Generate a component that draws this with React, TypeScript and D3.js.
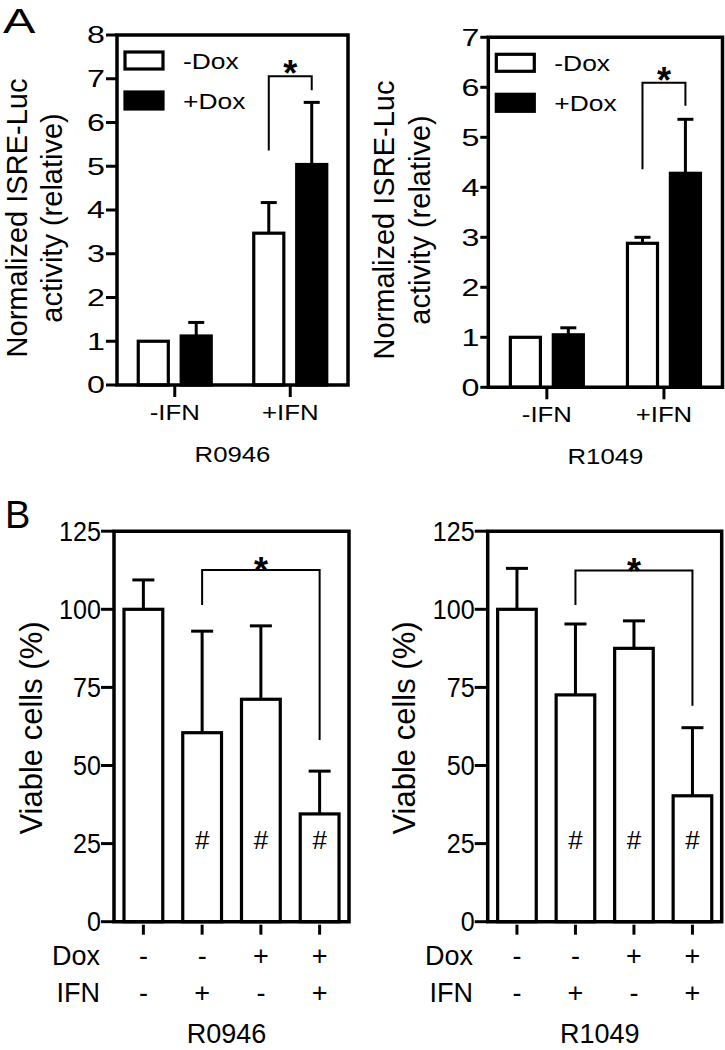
import React from 'react';
import * as d3 from 'd3';

const FONT = '"Liberation Sans", Arial, "DejaVu Sans", sans-serif';

// ---------- Panel A data (normalized ISRE-Luc activity) ----------
const groupsA = ['-IFN', '+IFN'];
const seriesA = ['-Dox', '+Dox'];
const r0946MinusDox = [1.0, 3.47];
const r0946MinusDoxErr = [0, 0.7];
const r0946PlusDox = [1.12, 5.04];
const r0946PlusDoxErr = [0.31, 1.42];
const r1049MinusDox = [1.0, 2.88];
const r1049MinusDoxErr = [0, 0.12];
const r1049PlusDox = [1.05, 4.28];
const r1049PlusDoxErr = [0.14, 1.08];
const ticksA0946 = [0, 1, 2, 3, 4, 5, 6, 7, 8];
const ticksA1049 = [0, 1, 2, 3, 4, 5, 6, 7];
// significance bracket: [left leg bottom, bracket top, right leg bottom]
const bracketA0946 = [5.36, 7.06, 6.74];
const bracketA1049 = [4.36, 6.09, 5.63];

// ---------- Panel B data (viable cells %) ----------
const doxRow = ['-', '-', '+', '+'];
const ifnRow = ['-', '+', '-', '+'];
const conditionsB = ['c1', 'c2', 'c3', 'c4'];
const viabR0946 = [100, 60.5, 71.2, 34.5];
const viabErrR0946 = [9.4, 32.5, 23.5, 13.7];
const viabR1049 = [100, 72.6, 87.5, 40.3];
const viabErrR1049 = [13.1, 22.7, 8.8, 21.8];
const hashMarks = ['', '#', '#', '#'];
const ticksB = [0, 25, 50, 75, 100, 125];
const bracketB0946 = [101.4, 112.6, 58.2];
const bracketB1049 = [101.4, 112.4, 69.1];

type TP = {
  x: number; y: number; size: number; sx?: number; anchor?: string;
  rotate?: number; weight?: string | number; children: React.ReactNode;
};
const T = ({ x, y, size, sx = 1, anchor = 'start', rotate = 0, weight = 'normal', children }: TP) => (
  <text
    transform={`translate(${x},${y}) scale(${sx},1)${rotate ? ` rotate(${rotate})` : ''}`}
    fontSize={size}
    textAnchor={anchor as any}
    fontFamily={FONT}
    fontWeight={weight as any}
    fill="#000"
  >
    {children}
  </text>
);

function PanelA(p: any) {
  const { left, right, top, bottom, yMax, ticks, minus, minusErr, plus, plusErr, bracket, name, t1, t2, tCy, tickLen } = p;
  const y = d3.scaleLinear().domain([0, yMax]).range([bottom, top]);
  const x = d3.scalePoint<string>().domain(groupsA).range([left, right]).padding(0.5);
  const inner = d3.scaleBand<string>().domain(seriesA).range([-36.5, 36.5]).paddingInner(0.3);
  const bw = inner.bandwidth();
  const vals = [minus, plus];
  const errs = [minusErr, plusErr];
  const cap = 16;
  const bx1 = (x('+IFN') as number) + (inner('-Dox') as number) + bw / 2;
  const bx2 = (x('+IFN') as number) + (inner('+Dox') as number) + bw / 2;
  return (
    <g>
      {/* y title */}
      <T x={t1} y={tCy} size={29} rotate={-90} anchor="middle">Normalized ISRE-Luc</T>
      <T x={t2} y={tCy} size={29} rotate={-90} anchor="middle">activity (relative)</T>
      {/* ticks */}
      {ticks.map((t: number) => (
        <g key={t}>
          <line x1={left - tickLen} x2={left} y1={y(t)} y2={y(t)} stroke="#000" strokeWidth={3} />
          <T x={left - tickLen - 1} y={y(t) + 8.3} size={23} sx={1.4} anchor="end">{t}</T>
        </g>
      ))}
      {/* bars */}
      {groupsA.map((g, gi) =>
        seriesA.map((s, si) => {
          const cx = (x(g) as number) + (inner(s) as number) + bw / 2;
          const v = vals[si][gi];
          const e = errs[si][gi];
          return (
            <g key={g + s}>
              {e > 0 && (
                <g stroke="#000" strokeWidth={3}>
                  <line x1={cx} x2={cx} y1={y(v)} y2={y(v + e)} />
                  <line x1={cx - cap / 2} x2={cx + cap / 2} y1={y(v + e)} y2={y(v + e)} />
                </g>
              )}
              <rect x={cx - bw / 2} y={y(v)} width={bw} height={y(0) - y(v)}
                fill={si === 0 ? '#fff' : '#000'} stroke="#000" strokeWidth={3.2} />
            </g>
          );
        })
      )}
      {/* frame */}
      <path d={`M${left},${top}H${right}V${bottom}H${left}Z`} fill="none" stroke="#000" strokeWidth={3.5} />
      {/* x ticks */}
      {groupsA.map((g) => (
        <g key={g}>
          <line x1={x(g)} x2={x(g)} y1={bottom} y2={bottom + 12} stroke="#000" strokeWidth={3} />
          <T x={x(g) as number} y={bottom + 35} size={23} sx={1.12} anchor="middle">{g}</T>
        </g>
      ))}
      <T x={(left + right) / 2} y={bottom + 77} size={23} sx={1.12} anchor="middle">{name}</T>
      {/* legend */}
      <rect x={left + 8} y={top + 17} width={38} height={17} fill="#fff" stroke="#000" strokeWidth={3.2} />
      <rect x={left + 8} y={top + 57} width={38} height={17} fill="#000" stroke="#000" strokeWidth={3.2} />
      <T x={left + 66} y={top + 34} size={22} sx={1.2}>{seriesA[0]}</T>
      <T x={left + 66} y={top + 74} size={22} sx={1.2}>{seriesA[1]}</T>
      {/* significance bracket */}
      <path d={`M${bx1},${y(bracket[0])}V${y(bracket[1])}H${bx2}V${y(bracket[2])}`} fill="none" stroke="#000" strokeWidth={2} />
      <T x={(bx1 + bx2) / 2} y={y(bracket[1]) + 10} size={36} weight="bold" anchor="middle">*</T>
    </g>
  );
}

function PanelB(p: any) {
  const { left, right, top, bottom, vals, errs, bracket, name, tBase, tCy, labelEnd } = p;
  const y = d3.scaleLinear().domain([0, 125]).range([bottom, top]);
  const x = d3.scalePoint<string>().domain(conditionsB).range([left, right]).padding(0.5);
  const bw = x.step() * 0.66;
  const cap = 22;
  const bx1 = x('c2') as number;
  const bx2 = x('c4') as number;
  return (
    <g>
      <T x={tBase} y={tCy} size={31} rotate={-90} anchor="middle">Viable cells (%)</T>
      {ticksB.map((t) => (
        <g key={t}>
          <line x1={left - 13} x2={left} y1={y(t)} y2={y(t)} stroke="#000" strokeWidth={3} />
          <T x={left - 13} y={y(t) + 9.5} size={27} sx={0.93} anchor="end">{t}</T>
        </g>
      ))}
      {conditionsB.map((c, i) => {
        const cx = x(c) as number;
        const v = vals[i];
        const e = errs[i];
        return (
          <g key={c}>
            <g stroke="#000" strokeWidth={3}>
              <line x1={cx} x2={cx} y1={y(v)} y2={y(v + e)} />
              <line x1={cx - cap / 2} x2={cx + cap / 2} y1={y(v + e)} y2={y(v + e)} />
            </g>
            <rect x={cx - bw / 2} y={y(v)} width={bw} height={y(0) - y(v)} fill="#fff" stroke="#000" strokeWidth={3.2} />
            {hashMarks[i] && <T x={cx} y={y(23.3)} size={26} anchor="middle">{hashMarks[i]}</T>}
            <line x1={cx} x2={cx} y1={bottom + 3} y2={bottom + 13} stroke="#000" strokeWidth={3} />
            <T x={cx} y={bottom + 43} size={27} anchor="middle">{doxRow[i]}</T>
            <T x={cx} y={bottom + 80} size={27} anchor="middle">{ifnRow[i]}</T>
          </g>
        );
      })}
      <path d={`M${left},${top}H${right}V${bottom}H${left}Z`} fill="none" stroke="#000" strokeWidth={3.5} />
      <T x={labelEnd} y={bottom + 43} size={27} anchor="end">Dox</T>
      <T x={labelEnd} y={bottom + 80} size={27} anchor="end">IFN</T>
      <T x={(left + right) / 2 - 5} y={bottom + 121} size={27} anchor="middle">{name}</T>
      <path d={`M${bx1},${y(bracket[0])}V${y(bracket[1])}H${bx2}V${y(bracket[2])}`} fill="none" stroke="#000" strokeWidth={2} />
      <T x={(bx1 + bx2) / 2} y={y(bracket[1]) + 13} size={36} weight="bold" anchor="middle">*</T>
    </g>
  );
}

export default function App() {
  return (
    <svg width={725} height={1050} style={{ position: 'absolute', left: 0, top: 0, background: '#fff' }}>
      <rect width={725} height={1050} fill="#fff" />
      <T x={3} y={33} size={36} sx={1.35}>A</T>
      <T x={5} y={528} size={38}>B</T>
      <PanelA left={117} right={348} top={35} bottom={385} yMax={8} ticks={ticksA0946}
        minus={r0946MinusDox} minusErr={r0946MinusDoxErr} plus={r0946PlusDox} plusErr={r0946PlusDoxErr}
        bracket={bracketA0946} name="R0946" t1={27} t2={62} tCy={218} tickLen={11} />
      <PanelA left={488.3} right={722.5} top={37.3} bottom={387.3} yMax={7} ticks={ticksA1049}
        minus={r1049MinusDox} minusErr={r1049MinusDoxErr} plus={r1049PlusDox} plusErr={r1049PlusDoxErr}
        bracket={bracketA1049} name="R1049" t1={394} t2={430} tCy={220} tickLen={8} />
      <PanelB left={114} right={349} top={531.2} bottom={921.7} vals={viabR0946} errs={viabErrR0946}
        bracket={bracketB0946} name="R0946" tBase={42} tCy={728} labelEnd={100} />
      <PanelB left={487.7} right={721.7} top={531.2} bottom={921.7} vals={viabR1049} errs={viabErrR1049}
        bracket={bracketB1049} name="R1049" tBase={415} tCy={728} labelEnd={473} />
    </svg>
  );
}
